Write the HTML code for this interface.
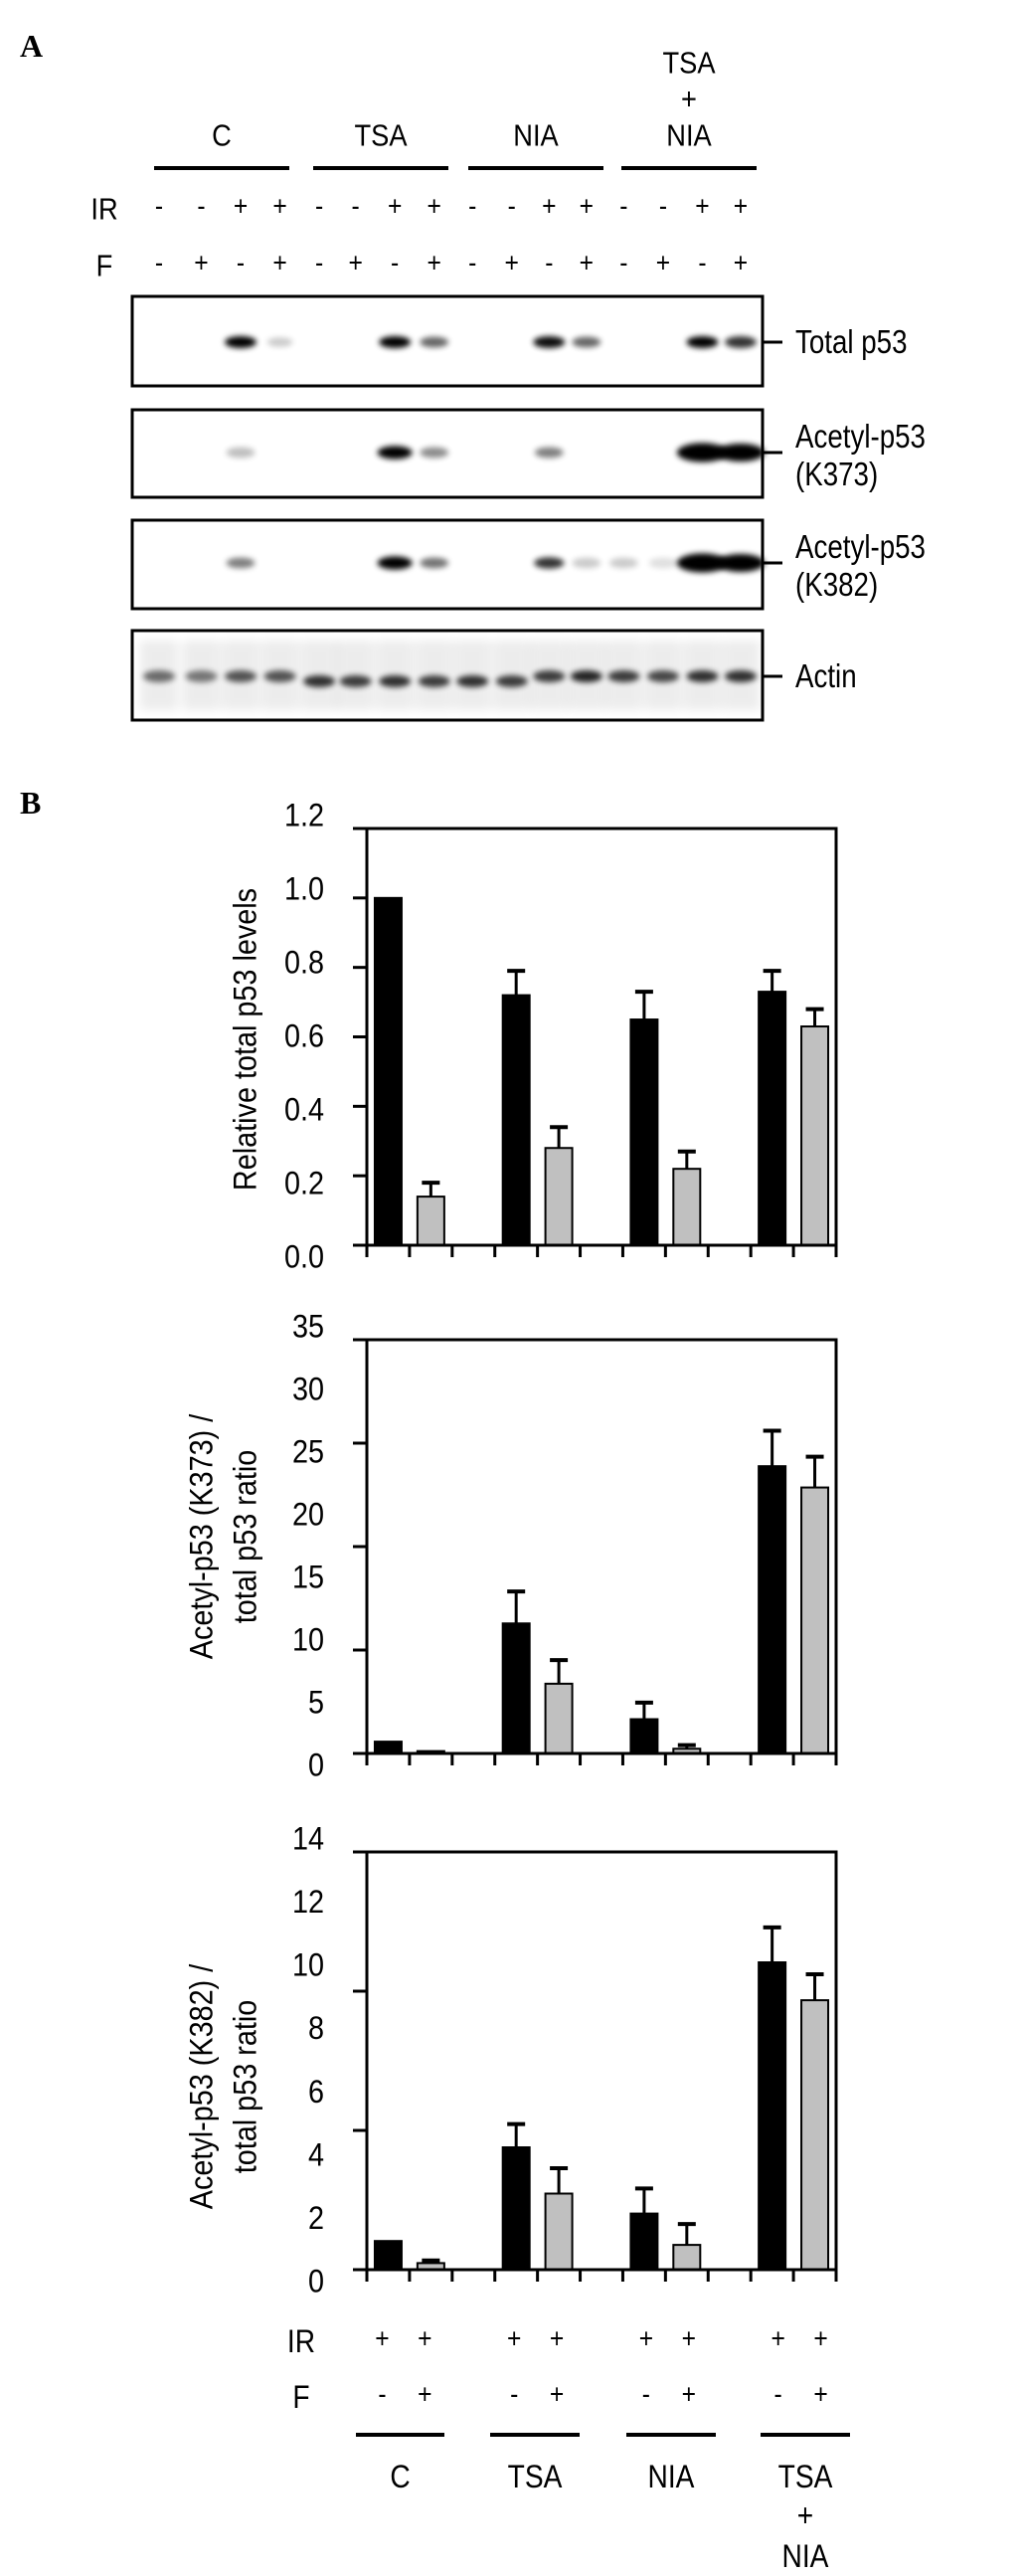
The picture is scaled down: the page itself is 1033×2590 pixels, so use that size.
<!DOCTYPE html>
<html><head><meta charset="utf-8">
<style>
html,body{margin:0;padding:0;background:#fff;}
svg{display:block;}
text{font-family:"Liberation Sans",sans-serif;fill:#000;}
</style></head>
<body>
<svg id="fig" width="1033" height="2590" viewBox="0 0 1033 2590" xmlns="http://www.w3.org/2000/svg">
<defs>
<filter id="blur" x="-50%" y="-80%" width="200%" height="260%"><feGaussianBlur stdDeviation="3"/></filter>
<filter id="blur2" x="-50%" y="-80%" width="200%" height="260%"><feGaussianBlur stdDeviation="5"/></filter>
</defs>
<text x="20" y="57" style="font-family:'Liberation Serif',serif;font-weight:bold;font-size:32px">A</text>
<text x="20" y="818" style="font-family:'Liberation Serif',serif;font-weight:bold;font-size:32px">B</text>
<g id="panelA"></g>
<g id="chart1"></g>
<g id="chart2"></g>
<g id="chart3"></g>
<g id="bottomLabels"></g>
</svg>
<script>
// ---------- data ----------
const groups = ["C","TSA","NIA","TSA+NIA"];
const irRow = ["-","-","+","+","-","-","+","+","-","-","+","+","-","-","+","+"];
const fRow  = ["-","+","-","+","-","+","-","+","-","+","-","+","-","+","-","+"];
// chart 1: relative total p53
const c1Black = [1.0, 0.72, 0.65, 0.73];
const c1BlackErr = [1.0, 0.79, 0.73, 0.79];
const c1Gray = [0.14, 0.28, 0.22, 0.63];
const c1GrayErr = [0.18, 0.34, 0.27, 0.68];
const c1Labels = ["0.0","0.2","0.4","0.6","0.8","1.0","1.2"];
const c1Ticks = [0,0.2,0.4,0.6,0.8,1.0,1.2];
// chart 2: K373 ratio
const c2Black = [1.0, 11.0, 2.9, 24.3];
const c2BlackErr = [1.0, 13.7, 4.3, 27.3];
const c2Gray = [0.2, 5.9, 0.4, 22.5];
const c2GrayErr = [0.2, 7.9, 0.7, 25.1];
const c2Labels = ["0","5","10","15","20","25","30","35"];
const c2Ticks = [0,8.75,17.5,26.25,35];
// chart 3: K382 ratio
const c3Black = [0.96, 4.1, 1.88, 10.3];
const c3BlackErr = [0.96, 4.88, 2.72, 11.47];
const c3Gray = [0.22, 2.55, 0.83, 9.03];
const c3GrayErr = [0.31, 3.4, 1.53, 9.9];
const c3Labels = ["0","2","4","6","8","10","12","14"];
const c3Ticks = [0,4.667,9.333,14];

const NS="http://www.w3.org/2000/svg";
function mk(tag, attrs, parent){const e=document.createElementNS(NS,tag);for(const k in attrs)e.setAttribute(k,attrs[k]);parent.appendChild(e);return e;}
function txt(parent,x,y,s,size,anchor,sx){
  sx=sx||0.88;
  const t=mk("text",{x:0,y:0,"font-size":size,"text-anchor":anchor||"middle","dominant-baseline":"central",transform:`translate(${x},${y}) scale(${sx},1)`},parent);
  t.textContent=s;return t;}

// ---------- Panel A ----------
const pA=document.getElementById("panelA");
const lanesRaw=[160,203,243,283,323,360,400,440,479,519,557,595,633,673,713,752];
const lanes=lanesRaw.map(v=>160+(v-160)*(585/592));
const grpLines=[[155,291],[315,451],[471,607],[625,761]];
groups.forEach((g,i)=>{
  const l=mk("line",{x1:grpLines[i][0],x2:grpLines[i][1],y1:169,y2:169,stroke:"#000","stroke-width":4},pA);
  
  
  const cx=(grpLines[i][0]+grpLines[i][1])/2;
  if(g==="TSA+NIA"){
    const t1=txt(pA,cx,64,"TSA",31);
    const t2=txt(pA,cx,100,"+",31);
    const t3=txt(pA,cx,137,"NIA",31);
  } else {
    const t=txt(pA,cx,137,g,31);
  }
});
const irL=txt(pA,105,211,"IR",31);
const fL=txt(pA,105,268,"F",31);
lanes.forEach((x,i)=>{
  const a=txt(pA,x,207,irRow[i],28);
  const b=txt(pA,x,264,fRow[i],28);
});
const blots=[
 {top:298,bot:388,label:["Total p53"],bandY:344,bands:[[2,1,1],[3,0.2,0.8],[6,1,1],[7,0.6,0.9],[10,0.95,1],[11,0.6,0.9],[14,1,1],[15,0.8,1]]},
 {top:412,bot:500,label:["Acetyl-p53","(K373)"],bandY:455,bands:[[2,0.25,0.9],[6,1,1.1],[7,0.45,0.9],[10,0.5,0.9],[14,1,1.6],[15,1,1.5]]},
 {top:523,bot:612,label:["Acetyl-p53","(K382)"],bandY:566,bands:[[2,0.5,0.9],[6,1,1.1],[7,0.55,0.9],[10,0.8,0.95],[11,0.2,0.9],[12,0.2,0.9],[13,0.12,0.9],[14,1,1.6],[15,1,1.5]]},
 {top:634,bot:724,label:["Actin"],bandY:680,bands:[[0,0.55,1],[1,0.5,1],[2,0.65,1],[3,0.65,1],[4,0.8,1],[5,0.75,1],[6,0.8,1],[7,0.75,1],[8,0.8,1],[9,0.75,1],[10,0.75,1],[11,0.85,1],[12,0.75,1],[13,0.7,1],[14,0.8,1],[15,0.8,1]]}
];
blots.forEach((b,bi)=>{
  const g=mk("g",{},pA);
  
  
  b.bands.forEach(([li,inten,sz])=>{
    const x=lanes[li];
    const y=b.bandY+(bi===3&&li>=4&&li<=9?5:0);
    if(bi===3){
      mk("rect",{x:x-19,y:b.top+10,width:38,height:b.bot-b.top-20,fill:"#000",opacity:0.07,filter:"url(#blur2)"},g);
    }
    const e=mk("ellipse",{cx:x,cy:y,rx:16*sz,ry:6*sz,fill:"#000",opacity:inten,filter:"url(#blur)"},g);
    
    
  });
  const r=mk("rect",{x:133,y:b.top,width:634,height:b.bot-b.top,fill:"none",stroke:"#000","stroke-width":3},g);
  
  
  mk("line",{x1:768,x2:787,y1:b.bandY,y2:b.bandY,stroke:"#000","stroke-width":3},g);
  if(b.label.length===1){
    const t=txt(g,800,b.bandY,b.label[0],33,"start",0.84);
  } else {
    const t1=txt(g,800,b.bandY-16,b.label[0],33,"start",0.84);
    const t2=txt(g,800,b.bandY+22,b.label[1],33,"start",0.84);
  }
});

// ---------- Bar charts ----------
const X0=369, X1=841, NSLOT=11;
const slotW=(X1-X0)/NSLOT;
function xCenter(slot){return X0+slotW*(slot+0.5);}
function drawChart(id, top, zero, ymax, black, blackErr, gray, grayErr, labels, ticks, titleLines, titleY){
  const g=document.getElementById(id);
  const y=v=>zero-(v/ymax)*(zero-top);
  const ly=i=>(zero+12)-(i/(labels.length-1))*((zero+12)-(top-13));
  const fr=mk("path",{d:`M${X0},${zero} L${X0},${top} L${X1},${top} L${X1},${zero}`,fill:"none",stroke:"#000","stroke-width":3},g);
  
  
  for(let i=0;i<black.length;i++){
    [[black,blackErr,"#000",0],[gray,grayErr,"#c0c0c0",1]].forEach(([vals,errs,fill,off])=>{
      const cx=xCenter(i*3+off);
      const v=vals[i], e=errs[i];
      if(e>v){
        mk("line",{x1:cx,x2:cx,y1:y(v),y2:y(e),stroke:"#000","stroke-width":3},g);
        const cap=mk("line",{x1:cx-9,x2:cx+9,y1:y(e),y2:y(e),stroke:"#000","stroke-width":4},g);
        
        
      }
      const h=Math.max(zero-y(v),1.5);
      const bar=mk("rect",{x:cx-13.5,y:zero-h,width:27,height:h,fill:fill,stroke:"#000","stroke-width":2},g);
      
      
    });
  }
  const xa=mk("line",{x1:X0-14,x2:X1,y1:zero,y2:zero,stroke:"#000","stroke-width":3},g);
  
  
  for(let k=0;k<=NSLOT;k++){
    const x=X0+k*slotW;
    mk("line",{x1:x,x2:x,y1:zero,y2:zero+12,stroke:"#000","stroke-width":3},g);
  }
  ticks.forEach(t=>{
    const tk=mk("line",{x1:X0-14,x2:X0,y1:y(t),y2:y(t),stroke:"#000","stroke-width":3},g);
    
    
  });
  labels.forEach((s,i)=>{
    const t=txt(g,326,ly(i),s,32,"end",0.9);
    
    
  });
  const tg=mk("g",{transform:`translate(0,${titleY}) rotate(-90)`},g);
  
  
  if(titleLines.length===1){txt(tg,0,247,titleLines[0],32,"middle",0.9);}
  else{txt(tg,0,203,titleLines[0],32,"middle",0.9);txt(tg,0,247,titleLines[1],32,"middle",0.9);}
}
drawChart("chart1",833,1252,1.2,c1Black,c1BlackErr,c1Gray,c1GrayErr,c1Labels,c1Ticks,["Relative  total  p53 levels"],1045);
drawChart("chart2",1347,1763,35,c2Black,c2BlackErr,c2Gray,c2GrayErr,c2Labels,c2Ticks,["Acetyl-p53 (K373) /","total p53 ratio"],1545);
drawChart("chart3",1862,2282,14,c3Black,c3BlackErr,c3Gray,c3GrayErr,c3Labels,c3Ticks,["Acetyl-p53 (K382) /","total p53 ratio"],2098);

// ---------- bottom labels ----------
const bl=document.getElementById("bottomLabels");
const a1=txt(bl,303,2355,"IR",32);
const a2=txt(bl,303,2411,"F",32);
const fSigns=["-","+"];
for(let i=0;i<4;i++){
  [0,1].forEach(off=>{
    const cx=xCenter(i*3+off)+(i-1.5)*4;
    const p=txt(bl,cx,2351,"+",28);
    const f=txt(bl,cx,2407,fSigns[off],28);
  });
}
const bLines=[[358,447],[493,583],[630,720],[765,855]];
groups.forEach((g,i)=>{
  const l=mk("line",{x1:bLines[i][0],x2:bLines[i][1],y1:2448,y2:2448,stroke:"#000","stroke-width":4},bl);
  
  
  const cx=(bLines[i][0]+bLines[i][1])/2;
  if(g==="TSA+NIA"){
    const t1=txt(bl,cx,2491,"TSA",32);
    const t2=txt(bl,cx,2530,"+",32);
    const t3=txt(bl,cx,2571,"NIA",32);
  } else {
    const t=txt(bl,cx,2491,g,32);
  }
});
</script>
</body></html>
